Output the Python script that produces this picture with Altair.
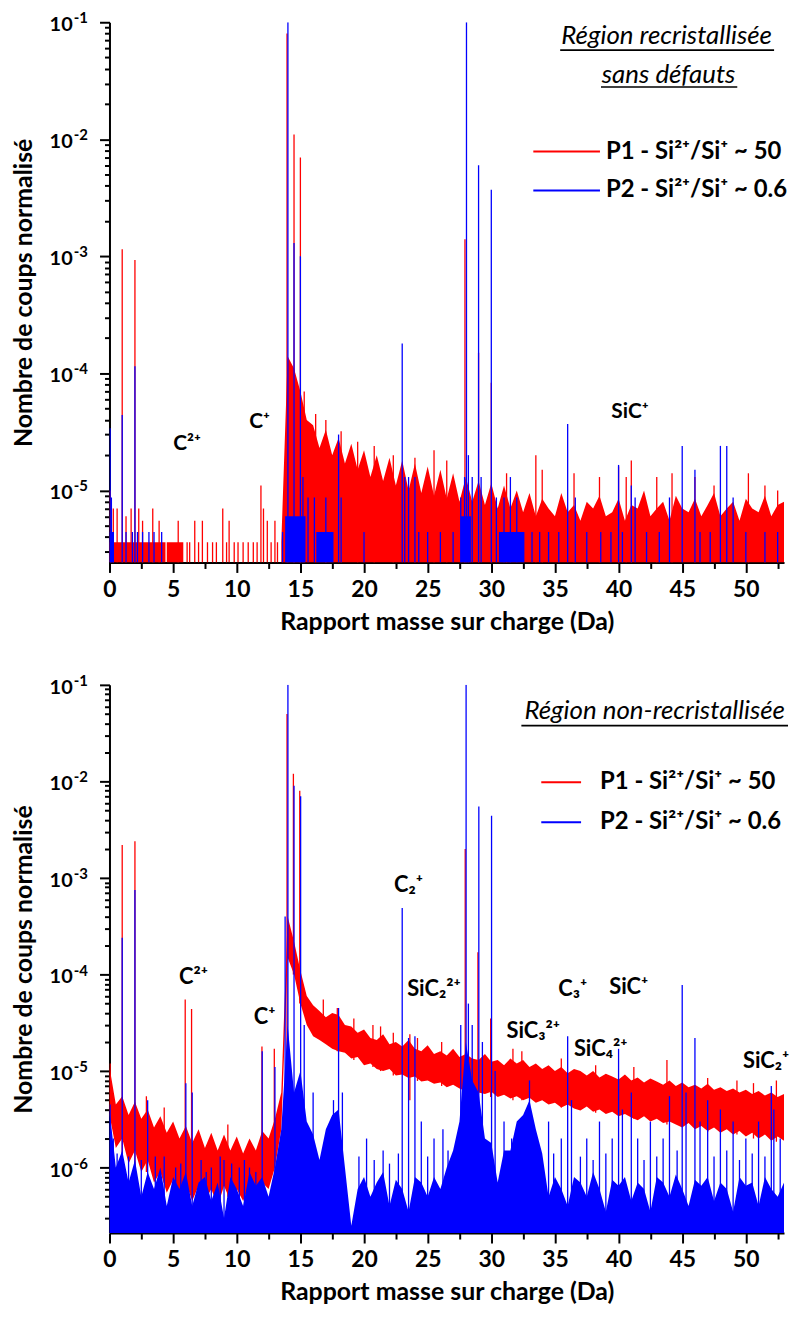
import altair as alt
import pandas as pd

FONT = "Lato, 'Noto Sans', 'DejaVu Sans', sans-serif"
RED = "#ff0000"
BLUE = "#0000ff"

SERIES_LABELS = ["P1 - Si²⁺/Si⁺ ~ 50", "P2 - Si²⁺/Si⁺ ~ 0.6"]
SERIES_COLORS = [RED, BLUE]
X_TITLE = "Rapport masse sur charge (Da)"
Y_TITLE = "Nombre de coups normalisé"
X_DOMAIN = [0, 53]
X_TICKS = [0, 2.5, 5, 7.5, 10, 12.5, 15, 17.5, 20, 22.5, 25, 27.5, 30, 32.5,
           35, 37.5, 40, 42.5, 45, 47.5, 50, 52.5]
Y_TOP = 0.1
MANTISSAS = [1, 2, 3, 4, 5, 6, 7, 8, 9]
DECADES = [-7, -6, -5, -4, -3, -2, -1]
Y_LABEL_BASE = "10"

# sample positions (Da) of the background envelopes, every 0.5 Da
GRID_MZ = [k / 2 for k in range(107)]

# ---------------- top panel: "Région recristallisée sans défauts" ----------------
TOP_YMIN = 2.42e-6
TOP_TITLE = ["Région recristallisée", "sans défauts"]
TOP_YLABEL_VAL = [1e-1, 1e-2, 1e-3, 1e-4, 1e-5]
TOP_YLABEL_EXP = ["-1", "-2", "-3", "-4", "-5"]

TOP_RED_ENV_MZ = [13.5 + k / 2 for k in range(80)]
TOP_RED_ENV_VAL = [
    3.6e-6,
    1.4e-4, 1.1e-4, 7e-5, 4e-5, 3.6e-5, 2.3e-5, 3.3e-5, 2e-5, 2.8e-5, 1.7e-5,
    2.5e-5, 1.5e-5, 2.2e-5, 1.3e-5, 2e-5, 1.2e-5, 1.9e-5, 1.1e-5, 1.8e-5, 1e-5,
    1.7e-5, 9.5e-6, 1.6e-5, 9e-6, 1.5e-5, 8.5e-6, 1.4e-5, 8e-6, 1.3e-5, 8e-6,
    1.2e-5, 7.5e-6, 1.15e-5, 7e-6, 1.1e-5, 7e-6, 1e-5, 6.5e-6, 9.5e-6,
    6e-6, 8.5e-6, 7e-6, 6e-6, 9.5e-6, 6.5e-6, 7.5e-6, 5.5e-6, 8e-6, 7e-6,
    9e-6, 6e-6, 6.5e-6, 8.5e-6, 5.5e-6, 7.5e-6, 7e-6, 1e-5, 6e-6, 7e-6,
    8e-6, 5.5e-6, 9e-6, 7e-6, 6.5e-6, 8.5e-6, 6e-6, 7.5e-6, 9.5e-6, 6e-6,
    7e-6, 8e-6, 5.5e-6, 8.5e-6, 7e-6, 6.5e-6, 9e-6, 6e-6, 7.5e-6, 8e-6,
]
TOP_RED_BLOCK_START = [0.0, 4.5]
TOP_RED_BLOCK_END = [4.4, 5.8]
TOP_RED_BLOCK_VAL = [3.6e-6, 3.6e-6]

TOP_RED_SPIKE_MZ = [
    0.05, 0.3, 0.6, 1.0, 1.3, 1.7, 2.0, 2.3, 2.6, 3.4,
    3.9, 5.4, 6.1, 6.3, 6.7, 7.0, 7.3, 7.7, 8.1, 8.4,
    8.9, 9.2, 9.4, 9.8, 10.1, 10.5, 10.9, 11.3, 11.6, 11.9,
    12.1, 12.4, 12.7, 13.0, 13.2, 13.95, 14.5, 15.0, 15.3, 16.2,
    17.0, 18.2, 19.5, 20.8, 22.3, 24.0, 25.5, 26.5, 27.93, 29.0,
    30.0, 31.2, 33.5, 34.0, 36.5, 38.5, 40.0, 40.6, 41.0, 43.0,
    44.2, 46.0, 47.5, 50.2, 51.5, 52.5,
]
TOP_RED_SPIKE_VAL = [
    1e-5, 7e-6, 7e-6, 1.15e-3, 6e-6, 7e-6, 9.3e-4, 7e-6, 5.5e-6, 7e-6,
    5.5e-6, 5.5e-6, 3.6e-6, 3.6e-6, 5.5e-6, 3.6e-6, 5.5e-6, 3.6e-6, 3.6e-6, 3.6e-6,
    7e-6, 3.6e-6, 5.5e-6, 3.6e-6, 3.6e-6, 3.6e-6, 3.6e-6, 3.6e-6, 3.6e-6, 1.1e-5,
    7e-6, 5.5e-6, 3.6e-6, 5.5e-6, 3.6e-6, 0.08, 1.1e-2, 7e-3, 7e-5, 4.5e-5,
    4e-5, 3.2e-5, 2.6e-5, 2.4e-5, 2e-5, 1.9e-5, 2.2e-5, 1.8e-5, 1.4e-3, 1.5e-4,
    8.3e-5, 1.4e-5, 2e-5, 1.5e-5, 1.4e-5, 1.3e-5, 1.6e-5, 1.3e-5, 1.8e-5, 1.3e-5,
    1.4e-5, 1.3e-5, 1.1e-5, 1.4e-5, 1.1e-5, 1e-5,
]

TOP_BLUE_BLOCK_START = [0.0, 13.8, 16.25, 27.6, 30.6]
TOP_BLUE_BLOCK_END = [0.35, 15.4, 17.6, 28.4, 32.6]
TOP_BLUE_BLOCK_VAL = [4.4e-6, 6e-6, 4.4e-6, 6e-6, 4.4e-6]

TOP_BLUE_SPIKE_MZ = [
    0.05, 0.15, 0.3, 1.0, 1.3, 1.8, 2.0, 2.2, 2.6, 3.1,
    3.5, 4.1, 13.6, 14.02, 14.5, 15.0, 15.2, 15.6, 16.1, 17.0,
    18.0, 18.2, 20.0, 23.0, 23.2, 23.5, 24.0, 24.3, 25.0, 26.0,
    27.0, 27.6, 27.9, 28.05, 28.2, 28.5, 29.0, 29.2, 30.0, 30.4,
    31.0, 31.5, 32.0, 33.2, 33.8, 34.5, 35.3, 36.0, 36.6, 37.5,
    38.6, 39.4, 40.0, 40.3, 41.0, 41.3, 42.2, 43.2, 44.0, 45.0,
    46.0, 46.4, 47.2, 48.0, 48.5, 49.0, 50.0, 51.5, 52.5,
]
TOP_BLUE_SPIKE_VAL = [
    3.4e-5, 8.7e-6, 4.4e-6, 4.4e-5, 4.4e-6, 4.4e-6, 1.15e-4, 4.4e-6, 4.4e-6, 4.4e-6,
    4.4e-6, 4.4e-6, 4.4e-6, 0.1, 1.3e-3, 1e-3, 1.3e-5, 8.7e-6, 8.7e-6, 8.7e-6,
    3e-5, 8.7e-6, 4.4e-6, 1.8e-4, 1.3e-5, 1.3e-5, 1.3e-5, 4.4e-6, 4.4e-6, 4.4e-6,
    4.4e-6, 8.7e-6, 1.3e-5, 0.1, 2e-5, 1.3e-5, 6e-3, 1.3e-5, 3.7e-3, 8.7e-6,
    8.7e-6, 1.3e-5, 8.7e-6, 4.4e-6, 4.4e-6, 4.4e-6, 4.4e-6, 3.7e-5, 8.7e-6, 4.4e-6,
    4.4e-6, 4.4e-6, 1.65e-5, 4.4e-6, 1.1e-5, 8.7e-6, 4.4e-6, 4.4e-6, 8.7e-6, 2.4e-5,
    1.5e-5, 4.4e-6, 4.4e-6, 2.4e-5, 2.4e-5, 8.7e-6, 4.4e-6, 4.4e-6, 4.4e-6,
]

TOP_ION_TEXT = ["C²⁺", "C⁺", "SiC⁺"]
TOP_ION_MZ = [6.1, 11.8, 40.9]
TOP_ION_VAL = [2.5e-5, 3.8e-5, 4.7e-5]

# ---------------- bottom panel: "Région non-recristallisée" ----------------
BOT_YMIN = 2.1e-7
BOT_TITLE = ["Région non-recristallisée"]
BOT_YLABEL_VAL = [1e-1, 1e-2, 1e-3, 1e-4, 1e-5, 1e-6]
BOT_YLABEL_EXP = ["-1", "-2", "-3", "-4", "-5", "-6"]

BOT_RED_HI = [
    1.1e-5, 4.5e-6, 5.5e-6, 3.5e-6, 4.8e-6, 3.2e-6, 4e-6, 2.6e-6, 3.4e-6, 2.3e-6,
    3e-6, 2e-6, 2.7e-6, 1.8e-6, 2.5e-6, 1.6e-6, 2.3e-6, 1.5e-6, 2.2e-6, 1.5e-6,
    2.1e-6, 1.4e-6, 2e-6, 1.5e-6, 2.4e-6, 2e-6, 3.2e-6, 6e-6, 4e-4, 2.2e-4,
    1.1e-4, 6e-5, 4.8e-5, 4.2e-5, 3.6e-5, 4e-5, 3.8e-5, 3e-5, 2.9e-5, 2.5e-5,
    2.7e-5, 2.2e-5, 2.1e-5, 2.4e-5, 1.9e-5, 2e-5, 1.8e-5, 2.1e-5, 1.7e-5, 1.6e-5,
    1.85e-5, 1.5e-5, 1.6e-5, 1.45e-5, 1.7e-5, 1.4e-5, 1.5e-5, 1.35e-5, 1.3e-5, 1.5e-5,
    1.25e-5, 1.3e-5, 1.15e-5, 1.35e-5, 1.2e-5, 1.3e-5, 1.1e-5, 1.2e-5, 1.05e-5, 1.15e-5,
    1e-5, 1.1e-5, 9.5e-6, 1.05e-5, 1e-5, 9e-6, 1e-5, 8.6e-6, 9.4e-6, 8.8e-6,
    8.2e-6, 9.2e-6, 8e-6, 8.6e-6, 7.6e-6, 8.4e-6, 7.8e-6, 7.2e-6, 8e-6, 7e-6,
    7.6e-6, 6.8e-6, 7.2e-6, 6.6e-6, 7.4e-6, 6.4e-6, 6.8e-6, 6.2e-6, 6.6e-6, 6e-6,
    6.4e-6, 5.8e-6, 6.2e-6, 5.6e-6, 6e-6, 5.4e-6, 5.8e-6,
]
BOT_RED_LO = [
    3.5e-6, 1.6e-6, 2e-6, 1.1e-6, 1.5e-6, 9e-7, 1.2e-6, 7e-7, 9e-7, 5.5e-7,
    7.5e-7, 5e-7, 7e-7, 4.5e-7, 6.5e-7, 4.5e-7, 6e-7, 4e-7, 6.5e-7, 4.5e-7,
    6e-7, 4.5e-7, 6.5e-7, 4.5e-7, 7e-7, 6e-7, 1e-6, 2.5e-6, 1.5e-4, 1e-4,
    5e-5, 3e-5, 2.3e-5, 2.1e-5, 1.9e-5, 1.7e-5, 1.6e-5, 1.55e-5, 1.35e-5, 1.4e-5,
    1.15e-5, 1.2e-5, 1.05e-5, 1e-5, 1.05e-5, 9e-6, 9.2e-6, 8.5e-6, 8.8e-6, 7.8e-6,
    8e-6, 7.4e-6, 7.6e-6, 6.8e-6, 7.2e-6, 6.6e-6, 6.2e-6, 6.8e-6, 6e-6, 5.8e-6,
    6.1e-6, 5.4e-6, 5.7e-6, 5.2e-6, 5.5e-6, 5e-6, 5.3e-6, 4.7e-6, 5e-6, 4.5e-6,
    4.7e-6, 4.2e-6, 4.5e-6, 4.1e-6, 3.9e-6, 4.3e-6, 3.8e-6, 4e-6, 3.6e-6, 3.8e-6,
    3.4e-6, 3.6e-6, 3.3e-6, 3.1e-6, 3.4e-6, 3e-6, 3.2e-6, 2.9e-6, 3e-6, 2.8e-6,
    2.6e-6, 2.9e-6, 2.5e-6, 2.7e-6, 2.4e-6, 2.6e-6, 2.3e-6, 2.5e-6, 2.2e-6, 2.4e-6,
    2.1e-6, 2.3e-6, 2e-6, 2.2e-6, 1.9e-6, 2.1e-6, 1.9e-6,
]
BOT_BLUE_ENV = [
    4e-6, 1e-6, 1.5e-6, 7e-7, 1.2e-6, 5e-7, 9e-7, 6e-7, 1e-6, 4e-7,
    8e-7, 6e-7, 9e-7, 4e-7, 7e-7, 8e-7, 4.5e-7, 7e-7, 3e-7, 8e-7,
    6e-7, 4e-7, 9e-7, 6.5e-7, 8e-7, 5e-7, 1e-6, 2.5e-6, 3e-5, 6e-6,
    1e-5, 3e-6, 2.2e-6, 1.2e-6, 2.5e-6, 3.5e-6, 4e-6, 1e-6, 2.5e-7, 6e-7,
    8e-7, 5e-7, 7e-7, 9e-7, 4e-7, 7.5e-7, 6e-7, 3.5e-7, 8e-7, 7e-7,
    5e-7, 8e-7, 6e-7, 1e-6, 1.5e-6, 3e-6, 2e-5, 8e-6, 6e-6, 2e-6,
    1.8e-6, 7e-7, 1.5e-6, 1.5e-6, 3e-6, 3.5e-6, 5e-6, 2.5e-6, 1.4e-6, 5e-7,
    8e-7, 6e-7, 4e-7, 8e-7, 7e-7, 5e-7, 9e-7, 6e-7, 3.5e-7, 7.5e-7,
    6.5e-7, 8e-7, 4.5e-7, 7e-7, 6e-7, 3.5e-7, 8e-7, 7e-7, 5e-7, 8.5e-7,
    6e-7, 4e-7, 7.5e-7, 6.5e-7, 8e-7, 4.5e-7, 7e-7, 6e-7, 3.5e-7, 8e-7,
    6.5e-7, 7e-7, 4e-7, 8e-7, 6e-7, 5e-7, 7e-7,
]

BOT_RED_SPIKE_MZ = [
    0.05, 1.0, 2.0, 2.9, 4.3, 5.95, 6.45, 9.3, 11.98, 12.95,
    13.95, 14.45, 14.95, 16.8, 17.9, 19.2, 20.7, 21.3, 22.3, 23.6,
    24.2, 26.1, 27.95, 28.95, 29.95, 31.7, 32.4, 35.5, 38.2, 41.2,
    43.8, 47.0, 49.3, 50.6, 52.4,
]
BOT_RED_SPIKE_VAL = [
    1.2e-5, 2.2e-3, 2.4e-3, 5.5e-6, 4.2e-6, 5.5e-5, 4.4e-5, 2.8e-6, 1.8e-5, 1.7e-5,
    0.05, 1.2e-2, 8e-3, 5.5e-5, 4.5e-5, 3.5e-5, 3e-5, 2.9e-5, 2.5e-5, 2.4e-5,
    2.2e-5, 2e-5, 2e-3, 1.7e-4, 3.5e-5, 1.7e-5, 1.6e-5, 1.35e-5, 1.15e-5, 1.1e-5,
    1.3e-5, 8.5e-6, 8e-6, 7.5e-6, 8e-6,
]
BOT_RED_SPIKE_BASE = [
    4e-6, 2.1e-7, 2.1e-7, 9e-7, 7e-7, 5.5e-7, 6e-7, 5e-7, 7e-7, 1.1e-6,
    2.1e-7, 1e-4, 5e-5, 2e-5, 1.6e-5, 1.3e-5, 1.1e-5, 1e-5, 9e-6, 5e-6,
    7.9e-6, 7e-6, 6.2e-6, 5.8e-6, 5.4e-6, 5e-6, 5e-6, 4.2e-6, 3.7e-6, 3.2e-6,
    2.8e-6, 2.35e-6, 2.2e-6, 2e-6, 1.85e-6,
]

BOT_BLUE_SPIKE_MZ = [
    0.05, 0.3, 0.6, 1.0, 1.5, 2.0, 2.5, 3.0, 3.6, 4.3,
    5.2, 5.6, 6.0, 6.5, 7.2, 7.6, 8.0, 8.7, 9.0, 9.6,
    10.2, 10.6, 11.0, 11.5, 12.0, 13.0, 13.8, 14.02, 14.5, 15.02,
    15.3, 16.0, 17.6, 18.0, 18.3, 19.6, 20.2, 20.8, 21.5, 22.0,
    22.7, 23.0, 23.5, 24.0, 24.5, 25.0, 25.5, 26.2, 26.6, 27.6,
    28.02, 28.2, 28.5, 29.02, 29.3, 30.02, 30.3, 31.0, 31.6, 33.0,
    34.5, 34.9, 35.5, 36.0, 36.3, 37.0, 37.5, 38.0, 38.5, 39.0,
    39.5, 40.0, 40.3, 41.0, 41.5, 42.0, 42.5, 43.0, 43.5, 44.0,
    44.6, 45.0, 45.3, 46.0, 46.4, 47.0, 47.5, 48.0, 48.5, 49.0,
    49.5, 50.0, 50.5, 51.0, 51.5, 52.0, 52.2, 52.7,
]
BOT_BLUE_SPIKE_VAL = [
    4.5e-6, 2e-6, 1.4e-6, 2.4e-4, 1.3e-6, 7.5e-4, 1.2e-6, 5e-6, 1.3e-6, 1.3e-6,
    1e-6, 1.1e-6, 7.5e-6, 6e-6, 1.2e-6, 9e-7, 1e-6, 1.3e-6, 1.2e-6, 1.1e-6,
    1e-6, 1.2e-6, 1e-6, 9e-7, 1.6e-5, 1.1e-5, 4e-4, 0.1, 9e-3, 7e-3,
    3e-5, 6e-6, 5e-6, 4.5e-5, 6e-6, 1.3e-6, 2e-6, 1.2e-6, 1.5e-6, 1.1e-6,
    1.4e-6, 4.9e-4, 2.2e-5, 2.3e-5, 3e-6, 1.3e-6, 2e-6, 2.5e-6, 1.5e-6, 3e-5,
    0.1, 5e-5, 3e-5, 5.5e-3, 2e-5, 4.4e-3, 1e-5, 3e-6, 2e-6, 8e-6,
    3e-6, 1.4e-6, 2e-6, 2.3e-5, 5e-6, 1.3e-6, 2e-6, 1.2e-6, 3e-6, 1.4e-6,
    2e-6, 1.7e-5, 4e-6, 6e-6, 2e-6, 1.2e-6, 3e-6, 1.3e-6, 2e-6, 5.5e-6,
    1.5e-6, 7.8e-5, 6e-6, 2.2e-5, 3e-6, 5e-6, 1.3e-6, 4e-6, 1.5e-6, 3e-6,
    1.2e-6, 2e-6, 1.4e-6, 3e-6, 1.3e-6, 7e-6, 4e-6, 2e-6,
]

BOT_ION_TEXT = ["C²⁺", "C⁺", "C₂⁺", "SiC₂²⁺", "SiC₃²⁺", "C₃⁺", "SiC⁺", "SiC₄²⁺", "SiC₂⁺"]
BOT_ION_MZ = [6.6, 12.2, 23.5, 25.5, 33.3, 36.4, 40.8, 38.6, 51.6]
BOT_ION_VAL = [9.5e-5, 3.6e-5, 8.5e-4, 7.1e-5, 2.6e-5, 7.1e-5, 7.4e-5, 1.7e-5, 1.26e-5]

for a, b in [(TOP_RED_ENV_MZ, TOP_RED_ENV_VAL),
             (TOP_RED_SPIKE_MZ, TOP_RED_SPIKE_VAL),
             (TOP_BLUE_SPIKE_MZ, TOP_BLUE_SPIKE_VAL), (GRID_MZ, BOT_RED_HI),
             (GRID_MZ, BOT_RED_LO), (GRID_MZ, BOT_BLUE_ENV),
             (BOT_RED_SPIKE_MZ, BOT_RED_SPIKE_VAL), (BOT_RED_SPIKE_MZ, BOT_RED_SPIKE_BASE),
             (BOT_BLUE_SPIKE_MZ, BOT_BLUE_SPIKE_VAL)]:
    assert len(a) == len(b), (len(a), len(b))

# ---------------- chart construction ----------------
W = 678
TOP_H = 543
BOT_H = 551

POW10 = "abs(log(datum.value)/LN10 - round(log(datum.value)/LN10)) < 0.001"
X_MAJOR = "datum.value % 5 == 0"
X_LABEL_EXPR = X_MAJOR + " ? format(datum.value, 'd') : ''"


def y_tick_values(ymin):
    vals = []
    for d in DECADES:
        for m in MANTISSAS:
            v = m * 10.0 ** d
            if ymin <= v <= Y_TOP * (1 + 1e-9):
                vals.append(v)
    return vals


def make_encoders(ymin):
    common = dict(grid=False, domainColor="black", domainWidth=2, tickColor="black",
                  tickWidth=2, labelColor="black", labelFont=FONT,
                  labelFontWeight="bold", titleColor="black", titleFont=FONT,
                  titleFontSize=25, titleFontWeight="bold", labelOverlap=False)
    xscale = alt.Scale(domain=X_DOMAIN, nice=False, zero=False)
    yscale = alt.Scale(type="log", domain=[ymin, Y_TOP], nice=False)
    xaxis = alt.Axis(values=X_TICKS, labelExpr=X_LABEL_EXPR, labelFontSize=23,
                     tickSize={"condition": {"test": X_MAJOR, "value": 10}, "value": 6},
                     labelPadding=6, titlePadding=8, labelFlush=False, **common)
    yaxis = alt.Axis(values=y_tick_values(ymin), labels=False,
                     tickSize={"condition": {"test": POW10, "value": 10}, "value": 5},
                     titlePadding=62, **common)

    def X(f):
        return alt.X(f, type="quantitative", scale=xscale, axis=xaxis, title=X_TITLE)

    def Y(f):
        return alt.Y(f, type="quantitative", scale=yscale, axis=yaxis, title=Y_TITLE)

    return X, Y


def y_labels(Y, vals, exps):
    df = pd.DataFrame({"val": vals, "base": [Y_LABEL_BASE] * len(vals), "exp": exps})
    base = alt.Chart(df).mark_text(font=FONT, fontSize=20, fontWeight="bold", color="black",
                                   align="right", baseline="middle", dy=3).encode(
        x=alt.value(-37), y=Y("val"), text="base:N")
    sup = alt.Chart(df).mark_text(font=FONT, fontSize=15, fontWeight="bold", color="black",
                                  align="left", baseline="middle", dy=-4).encode(
        x=alt.value(-36), y=Y("val"), text="exp:N")
    return [base, sup]


def spikes(X, Y, mz, val, base, color):
    df = pd.DataFrame({"mz": mz, "val": val, "base": base})
    return alt.Chart(df).mark_rule(color=color, strokeWidth=1.3, clip=True).encode(
        x=X("mz"), y=Y("val"), y2=alt.Y2("base"))


def blocks(X, Y, start, end, val, ymin, color):
    df = pd.DataFrame({"start": start, "end": end, "val": val, "base": [ymin] * len(val)})
    return alt.Chart(df).mark_rect(color=color, clip=True).encode(
        x=X("start"), x2=alt.X2("end"), y=Y("val"), y2=alt.Y2("base"))


def band(X, Y, mz, hi, lo, color):
    df = pd.DataFrame({"mz": mz, "hi": hi, "lo": lo})
    return alt.Chart(df).mark_area(color=color, clip=True, interpolate="linear").encode(
        x=X("mz"), y=Y("hi"), y2=alt.Y2("lo"))


def ions(X, Y, txt, mz, val, size):
    df = pd.DataFrame({"txt": txt, "mz": mz, "val": val})
    return alt.Chart(df).mark_text(font=FONT, fontSize=size, fontWeight="bold", color="black",
                                   align="center", baseline="middle").encode(
        x=X("mz"), y=Y("val"), text="txt:N")


def region_title(lines, centers, underlines):
    layers = []
    for line, (cx, cy), (ux1, ux2, uy) in zip(lines, centers, underlines):
        d = pd.DataFrame({"txt": [line]})
        layers.append(alt.Chart(d).mark_text(font=FONT, fontSize=26, fontStyle="italic",
                                             color="black", align="center",
                                             baseline="middle").encode(
            x=alt.value(cx), y=alt.value(cy), text="txt:N"))
        layers.append(alt.Chart(d).mark_rule(color="black", strokeWidth=1.6).encode(
            x=alt.value(ux1), x2=alt.value(ux2), y=alt.value(uy)))
    return layers


def legend(x1, x2, xt, ys):
    layers = []
    for lab, col, yy in zip(SERIES_LABELS, SERIES_COLORS, ys):
        d = pd.DataFrame({"txt": [lab]})
        layers.append(alt.Chart(d).mark_rule(color=col, strokeWidth=2).encode(
            x=alt.value(x1), x2=alt.value(x2), y=alt.value(yy)))
        layers.append(alt.Chart(d).mark_text(font=FONT, fontSize=24, fontWeight="bold",
                                             color="black", align="left",
                                             baseline="middle").encode(
            x=alt.value(xt), y=alt.value(yy), text="txt:N"))
    return layers


# top panel
Xt, Yt = make_encoders(TOP_YMIN)
top_layers = [
    blocks(Xt, Yt, TOP_RED_BLOCK_START, TOP_RED_BLOCK_END, TOP_RED_BLOCK_VAL, TOP_YMIN, RED),
    band(Xt, Yt, TOP_RED_ENV_MZ, TOP_RED_ENV_VAL, [TOP_YMIN] * len(TOP_RED_ENV_MZ), RED),
    spikes(Xt, Yt, TOP_RED_SPIKE_MZ, TOP_RED_SPIKE_VAL, [TOP_YMIN] * len(TOP_RED_SPIKE_MZ), RED),
    blocks(Xt, Yt, TOP_BLUE_BLOCK_START, TOP_BLUE_BLOCK_END, TOP_BLUE_BLOCK_VAL, TOP_YMIN, BLUE),
    spikes(Xt, Yt, TOP_BLUE_SPIKE_MZ, TOP_BLUE_SPIKE_VAL, [TOP_YMIN] * len(TOP_BLUE_SPIKE_MZ), BLUE),
    ions(Xt, Yt, TOP_ION_TEXT, TOP_ION_MZ, TOP_ION_VAL, 21),
]
top_layers += y_labels(Yt, TOP_YLABEL_VAL, TOP_YLABEL_EXP)
top_layers += region_title(TOP_TITLE, [(560, 14), (562, 53)], [(453, 668, 28), (494, 631, 65)])
top_layers += legend(426, 493, 499, [130, 169])
top = alt.layer(*top_layers).properties(width=W, height=TOP_H)

# bottom panel
Xb, Yb = make_encoders(BOT_YMIN)
bot_layers = [
    band(Xb, Yb, GRID_MZ, BOT_RED_HI, BOT_RED_LO, RED),
    spikes(Xb, Yb, BOT_RED_SPIKE_MZ, BOT_RED_SPIKE_VAL, BOT_RED_SPIKE_BASE, RED),
    band(Xb, Yb, GRID_MZ, BOT_BLUE_ENV, [BOT_YMIN] * len(GRID_MZ), BLUE),
    spikes(Xb, Yb, BOT_BLUE_SPIKE_MZ, BOT_BLUE_SPIKE_VAL, [BOT_YMIN] * len(BOT_BLUE_SPIKE_MZ), BLUE),
    ions(Xb, Yb, BOT_ION_TEXT, BOT_ION_MZ, BOT_ION_VAL, 22),
]
bot_layers += y_labels(Yb, BOT_YLABEL_VAL, BOT_YLABEL_EXP)
bot_layers += region_title(BOT_TITLE, [(548, 26)], [(414, 682, 41)])
bot_layers += legend(434, 474, 493, [98, 138])
bot = alt.layer(*bot_layers).properties(width=W, height=BOT_H)

chart = alt.vconcat(top, bot, spacing=40).properties(
    padding={"left": 4, "top": 0, "right": 0, "bottom": 0}
).configure_view(stroke=None)

chart.save("out.html", embed_options={"renderer": "svg", "actions": False})
